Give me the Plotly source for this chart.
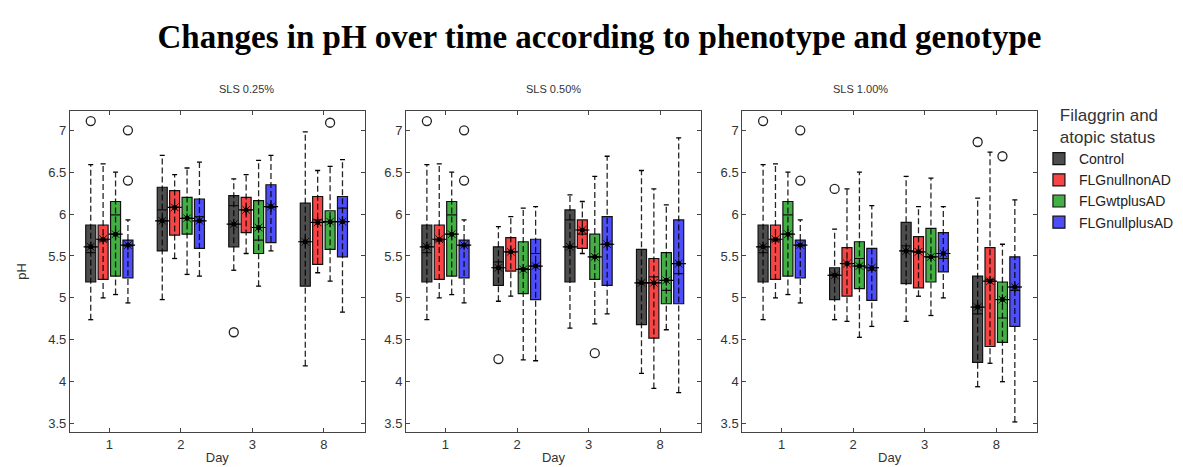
import plotly.graph_objects as go

# ---------------- data ----------------
DAYS = ["1", "2", "3", "8"]
GROUPS = ["Control", "FLGnullnonAD", "FLGwtplusAD", "FLGnullplusAD"]
PANELS = ["SLS 0.25%", "SLS 0.50%", "SLS 1.00%"]
Y_TICKS = [3.5, 4, 4.5, 5, 5.5, 6, 6.5, 7]
Y_TICK_TEXT = ["3.5", "4", "4.5", "5", "5.5", "6", "6.5", "7"]

# rows = groups (Control, FLGnullnonAD, FLGwtplusAD, FLGnullplusAD), cols = days (1, 2, 3, 8)
# ---- SLS 0.25% ----
Q1_025 = [[5.19, 5.56, 5.61, 5.14], [5.22, 5.75, 5.78, 5.40], [5.26, 5.76, 5.53, 5.58], [5.24, 5.59, 5.66, 5.49]]
MED_025 = [[5.54, 6.05, 6.10, 5.67], [5.68, 6.08, 6.05, 5.93], [5.99, 5.95, 5.69, 5.91], [5.62, 5.97, 6.08, 6.07]]
Q3_025 = [[5.87, 6.32, 6.22, 6.13], [5.87, 6.28, 6.20, 6.21], [6.15, 6.20, 6.16, 6.04], [5.69, 6.18, 6.35, 6.21]]
MEAN_025 = [[5.61, 5.92, 5.88, 5.67], [5.70, 6.08, 6.05, 5.90], [5.76, 5.95, 5.84, 5.91], [5.63, 5.92, 6.09, 5.91]]
LO_025 = [[4.74, 4.98, 5.33, 4.19], [5.00, 5.47, 5.53, 5.30], [5.04, 5.28, 5.14, 5.20], [4.94, 5.26, 5.56, 4.83]]
HI_025 = [[6.59, 6.70, 6.42, 6.98], [6.60, 6.47, 6.47, 6.52], [6.50, 6.55, 6.64, 6.57], [5.93, 6.62, 6.70, 6.65]]
OUT_DAY_025 = [0, 0, 0, 2, 3]
OUT_GRP_025 = [0, 3, 3, 0, 2]
OUT_VAL_025 = [7.11, 7.00, 6.40, 4.59, 7.09]

# ---- SLS 0.50% ----
Q1_050 = [[5.19, 5.15, 5.19, 4.68], [5.22, 5.32, 5.59, 4.52], [5.26, 5.05, 5.22, 4.93], [5.24, 4.98, 5.15, 4.93]]
MED_050 = [[5.54, 5.43, 5.93, 5.18], [5.68, 5.55, 5.76, 5.25], [5.99, 5.35, 5.49, 5.09], [5.62, 5.53, 5.64, 5.29]]
Q3_050 = [[5.87, 5.61, 6.05, 5.58], [5.87, 5.72, 5.93, 5.47], [6.15, 5.67, 5.76, 5.54], [5.69, 5.70, 5.97, 5.93]]
MEAN_050 = [[5.61, 5.36, 5.61, 5.18], [5.70, 5.55, 5.81, 5.18], [5.76, 5.34, 5.49, 5.21], [5.63, 5.38, 5.64, 5.41]]
LO_050 = [[4.74, 4.96, 4.64, 4.10], [5.00, 5.02, 5.53, 3.92], [5.04, 4.26, 4.69, 4.62], [4.94, 4.25, 4.81, 3.87]]
HI_050 = [[6.59, 5.85, 6.23, 6.52], [6.60, 5.97, 6.15, 6.30], [6.50, 6.07, 6.45, 6.11], [5.93, 6.09, 6.69, 6.91]]
OUT_DAY_050 = [0, 0, 0, 1, 2]
OUT_GRP_050 = [0, 3, 3, 0, 2]
OUT_VAL_050 = [7.11, 7.00, 6.40, 4.27, 4.34]

# ---- SLS 1.00% ----
Q1_100 = [[5.19, 4.98, 5.17, 4.23], [5.22, 5.02, 5.12, 4.42], [5.26, 5.11, 5.19, 4.47], [5.24, 4.97, 5.31, 4.66]]
MED_100 = [[5.54, 5.28, 5.62, 4.81], [5.68, 5.41, 5.55, 5.22], [5.99, 5.47, 5.49, 4.76], [5.62, 5.33, 5.47, 5.09]]
Q3_100 = [[5.87, 5.36, 5.90, 5.26], [5.87, 5.60, 5.73, 5.60], [6.15, 5.67, 5.83, 5.19], [5.69, 5.59, 5.78, 5.49]]
MEAN_100 = [[5.61, 5.27, 5.56, 4.89], [5.70, 5.41, 5.55, 5.20], [5.76, 5.38, 5.49, 4.98], [5.63, 5.36, 5.53, 5.13]]
LO_100 = [[4.74, 4.74, 4.72, 3.94], [5.00, 4.72, 5.02, 4.22], [5.04, 4.53, 4.79, 4.00], [4.94, 4.66, 5.00, 3.52]]
HI_100 = [[6.59, 5.82, 6.45, 6.19], [6.60, 6.30, 6.09, 6.74], [6.50, 6.50, 6.43, 5.64], [5.93, 6.10, 6.09, 6.17]]
OUT_DAY_100 = [0, 0, 0, 1, 3, 3]
OUT_GRP_100 = [0, 3, 3, 0, 0, 2]
OUT_VAL_100 = [7.11, 7.00, 6.40, 6.30, 6.86, 6.69]

# ---------------- style ----------------
FILLS = ["rgba(62,62,62,0.92)", "rgba(246,52,52,0.92)", "rgba(52,168,52,0.92)", "rgba(62,62,250,0.92)"]
OFFSETS = [-0.26, -0.087, 0.087, 0.26]
BOX_W = 0.14
CAP_HALF = 0.035
MEAN_HALF = 0.1
FONT = "Liberation Sans, Arial, sans-serif"

panel_data = [
    (Q1_025, MED_025, Q3_025, MEAN_025, LO_025, HI_025, OUT_DAY_025, OUT_GRP_025, OUT_VAL_025),
    (Q1_050, MED_050, Q3_050, MEAN_050, LO_050, HI_050, OUT_DAY_050, OUT_GRP_050, OUT_VAL_050),
    (Q1_100, MED_100, Q3_100, MEAN_100, LO_100, HI_100, OUT_DAY_100, OUT_GRP_100, OUT_VAL_100),
]

domains = [[0.0, 0.3047], [0.3476, 0.6524], [0.6953, 1.0]]

fig = go.Figure()

for p, (q1, med, q3, mean, lo, hi, od, og, ov) in enumerate(panel_data):
    xa = "x" if p == 0 else f"x{p+1}"
    ya = "y" if p == 0 else f"y{p+1}"
    for g in range(4):
        xs = [d + 1 + OFFSETS[g] for d in range(len(DAYS))]
        fig.add_trace(go.Box(
            x=xs, q1=q1[g], median=med[g], q3=q3[g],
            lowerfence=q1[g], upperfence=q3[g],
            width=BOX_W, fillcolor=FILLS[g],
            line=dict(color="#111111", width=1.2),
            whiskerwidth=0, boxpoints=False,
            name=GROUPS[g], legendgroup=GROUPS[g], showlegend=(p == 0),
            xaxis=xa, yaxis=ya, hoverinfo="skip",
        ))
    for g in range(4):
        xs = [d + 1 + OFFSETS[g] for d in range(len(DAYS))]
        wx, wy, cx, cy, mx, my = [], [], [], [], [], []
        for d, x in enumerate(xs):
            wx += [x, x, None]
            wy += [lo[g][d], hi[g][d], None]
            for v in (lo[g][d], hi[g][d]):
                cx += [x - CAP_HALF, x + CAP_HALF, None]
                cy += [v, v, None]
            mx += [x - MEAN_HALF, x + MEAN_HALF, None]
            my += [mean[g][d], mean[g][d], None]
        fig.add_trace(go.Scatter(x=wx, y=wy, mode="lines", xaxis=xa, yaxis=ya,
                                 line=dict(color="rgba(0,0,0,0.85)", width=1.3, dash="6px,3px"),
                                 showlegend=False, hoverinfo="skip"))
        fig.add_trace(go.Scatter(x=cx, y=cy, mode="lines", xaxis=xa, yaxis=ya,
                                 line=dict(color="black", width=1.3),
                                 showlegend=False, hoverinfo="skip"))
        fig.add_trace(go.Scatter(x=mx, y=my, mode="lines", xaxis=xa, yaxis=ya,
                                 line=dict(color="black", width=1.2),
                                 showlegend=False, hoverinfo="skip"))
        fig.add_trace(go.Scatter(x=xs, y=mean[g], mode="markers", xaxis=xa, yaxis=ya,
                                 marker=dict(symbol="asterisk-open", size=9, color="black",
                                             line=dict(color="rgba(0,0,0,0.6)", width=0.8)),
                                 showlegend=False, hoverinfo="skip"))
        fig.add_trace(go.Scatter(x=xs, y=mean[g], mode="markers", xaxis=xa, yaxis=ya,
                                 marker=dict(symbol="circle", size=5, color="black"),
                                 showlegend=False, hoverinfo="skip"))
    ox = [od[i] + 1 + OFFSETS[og[i]] for i in range(len(ov))]
    fig.add_trace(go.Scatter(x=ox, y=ov, mode="markers", xaxis=xa, yaxis=ya,
                             marker=dict(symbol="circle-open", size=9, color="#222222",
                                         line=dict(width=1.3)),
                             showlegend=False, hoverinfo="skip"))

axis_common = dict(showline=True, linecolor="#444444", linewidth=1.2, mirror="ticks",
                   ticks="inside", ticklen=4, tickcolor="#444444", showgrid=False, zeroline=False,
                   tickfont=dict(family=FONT, size=13, color="#333333"))

layout_axes = {}
for p in range(3):
    xkey = "xaxis" if p == 0 else f"xaxis{p+1}"
    ykey = "yaxis" if p == 0 else f"yaxis{p+1}"
    layout_axes[xkey] = dict(axis_common, domain=domains[p], range=[0.45, 4.57],
                             tickvals=[1, 2, 3, 4], ticktext=DAYS,
                             anchor="y" if p == 0 else f"y{p+1}",
                             title=dict(text="Day", font=dict(family=FONT, size=13, color="#333333"),
                                        standoff=2))
    layout_axes[ykey] = dict(axis_common, domain=[0, 1], range=[3.4, 7.23],
                             tickvals=Y_TICKS, ticktext=Y_TICK_TEXT,
                             anchor="x" if p == 0 else f"x{p+1}",
                             title=dict(text="pH" if p == 0 else "",
                                        font=dict(family=FONT, size=13, color="#333333"),
                                        standoff=18))

annotations = []
for p in range(3):
    annotations.append(dict(text=PANELS[p], xref="paper", yref="paper",
                            x=(domains[p][0] + domains[p][1]) / 2, y=1.0,
                            yanchor="bottom", yshift=14, showarrow=False,
                            font=dict(family=FONT, size=11, color="#333333")))

fig.update_layout(
    width=1183, height=467,
    margin=dict(l=62, r=143, t=103, b=41),
    paper_bgcolor="white", plot_bgcolor="white",
    boxmode="overlay",
    title=dict(text="<b>Changes in pH over time according to phenotype and genotype</b>",
               x=0.5, xanchor="center", y=1 - 28 / 467, yanchor="middle",
               font=dict(family="Liberation Serif, Times New Roman, serif", size=33, color="black")),
    legend=dict(x=1.002, xanchor="left", y=1.038, yanchor="top",
                title=dict(text="Filaggrin and<br>atopic status", side="top center",
                           font=dict(family=FONT, size=17, color="#333333")),
                font=dict(family=FONT, size=14, color="#222222"),
                tracegroupgap=0, itemwidth=30, bgcolor="rgba(0,0,0,0)"),
    annotations=annotations,
    **layout_axes,
)

fig.write_html("out.html")
